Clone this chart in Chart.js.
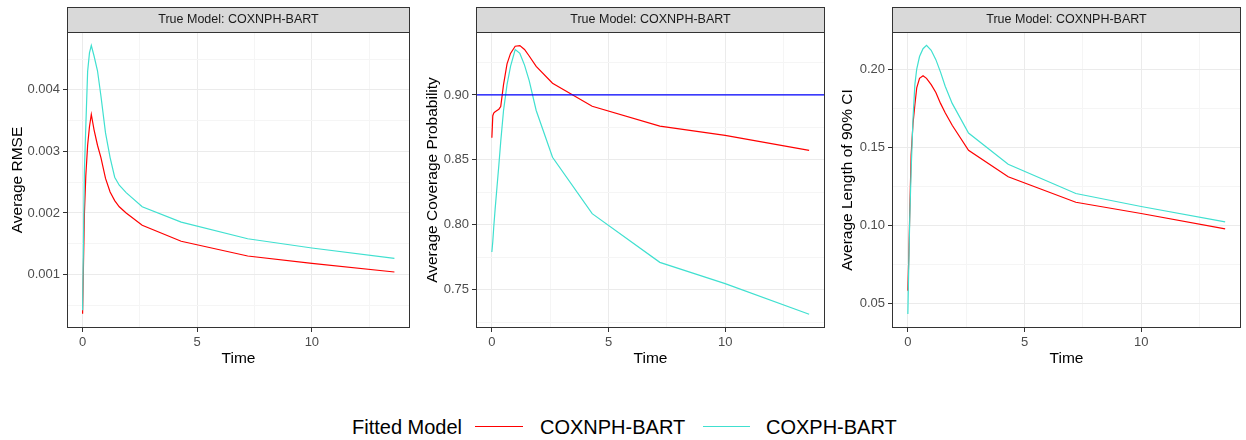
<!DOCTYPE html>
<html lang="en">
<head>
  <meta charset="UTF-8" />
  <title>True Model: COXNPH-BART</title>
  <script src="https://cdn.jsdelivr.net/npm/chart.js"></script>
  <style>
    body {
      margin: 0;
      background: #fff;
      font-family: "Liberation Sans", Arial, sans-serif;
    }
    .wrap {
      position: relative;
      width: 1246px;
      height: 440px;
    }
    canvas {
      position: absolute;
      top: 0;
    }
    .lab {
      position: absolute;
      top: 417px;
      font-size: 20px;
      line-height: 20px;
      color: #000;
      white-space: nowrap;
    }
    .key {
      position: absolute;
      top: 426px;
      height: 0;
      border-top: 1.5px solid;
    }
  </style>
</head>
<body>

<div class="wrap">
  <canvas id="rmseChart" width="415" height="380" style="left:0px"></canvas>
  <canvas id="covChart" width="415" height="380" style="left:415px"></canvas>
  <canvas id="lenChart" width="416" height="380" style="left:830px"></canvas>

  <div class="lab" style="left:352px">Fitted Model</div>
  <div class="key" style="left:475px;width:48px;border-color:#ff0000"></div>
  <div class="lab" style="left:540px">COXNPH-BART</div>
  <div class="key" style="left:703px;width:47px;border-color:#40e0d0"></div>
  <div class="lab" style="left:766px">COXPH-BART</div>
</div>

<script>
  // time points shared by all curves
  const time = [0, 0.04, 0.08, 0.14, 0.22, 0.3, 0.38, 0.5, 0.65, 0.8, 1.0, 1.2, 1.4, 1.6, 1.9, 2.6, 4.3, 7.2, 10, 13.6];

  const rmseNPH = [0.00036, 0.0012, 0.0020, 0.0026, 0.0031, 0.0034, 0.0036, 0.00335, 0.0031, 0.0029, 0.00256, 0.00234, 0.0022, 0.0021, 0.0020, 0.0018, 0.00154, 0.0013, 0.00118, 0.00104];
  const rmsePH  = [0.00042, 0.0016, 0.0027, 0.0034, 0.0043, 0.0046, 0.00472, 0.00455, 0.00431, 0.0039, 0.0033, 0.0029, 0.00258, 0.00245, 0.00233, 0.0021, 0.00185, 0.00158, 0.00143, 0.00126];

  const covNPH = [0.867, 0.884, 0.886, 0.887, 0.888, 0.889, 0.891, 0.908, 0.924, 0.932, 0.9375, 0.938, 0.935, 0.930, 0.922, 0.909, 0.8913, 0.876, 0.8689, 0.8573];
  const covPH  = [0.779, 0.787, 0.798, 0.812, 0.829, 0.846, 0.864, 0.888, 0.908, 0.922, 0.935, 0.932, 0.923, 0.911, 0.888, 0.852, 0.8085, 0.771, 0.7546, 0.731];

  const lenNPH = [0.058, 0.080, 0.107, 0.145, 0.165, 0.177, 0.188, 0.194, 0.1957, 0.194, 0.190, 0.185, 0.178, 0.172, 0.164, 0.148, 0.131, 0.1147, 0.1075, 0.0977];
  const lenPH  = [0.0432, 0.075, 0.104, 0.135, 0.168, 0.190, 0.200, 0.208, 0.213, 0.2152, 0.212, 0.206, 0.198, 0.189, 0.178, 0.159, 0.139, 0.1203, 0.112, 0.1021];

  const nominal = 0.90;

  const xTicks = [0, 5, 10];
  const rmseTicks = [0.001, 0.002, 0.003, 0.004];
  const covTicks = [0.75, 0.80, 0.85, 0.90];
  const lenTicks = [0.05, 0.10, 0.15, 0.20];

  const RED = '#ff0000';
  const CYAN = '#40e0d0';

  const pts = vals => time.map((t, i) => ({ x: t, y: vals[i] }));

  // majors plus the half-way minor lines inside [min, max]
  function gridValues(major, min, max) {
    const step = major[1] - major[0];
    const out = major.slice();
    for (let i = -1; i < major.length; i++) {
      const v = major[0] + (i + 0.5) * step;
      if (v >= min && v <= max) out.push(v);
    }
    return out.sort((a, b) => a - b);
  }
  const isMajor = (major, v) => major.some(m => Math.abs(m - v) < 1e-9);

  const panelFrame = {
    id: 'panelFrame',
    afterDraw(chart) {
      const { ctx, chartArea: a } = chart;
      ctx.save();
      ctx.fillStyle = '#d9d9d9';
      ctx.fillRect(a.left, 7, a.right - a.left, a.top - 7);
      ctx.strokeStyle = '#333';
      ctx.lineWidth = 1;
      ctx.strokeRect(a.left + 0.5, 7.5, a.right - a.left - 1, a.top - 7);
      ctx.strokeRect(a.left + 0.5, a.top + 0.5, a.right - a.left - 1, a.bottom - a.top - 1);
      ctx.fillStyle = '#1a1a1a';
      ctx.font = '12.5px "Liberation Sans", Arial, sans-serif';
      ctx.textAlign = 'center';
      ctx.textBaseline = 'middle';
      ctx.fillText('True Model: COXNPH-BART', (a.left + a.right) / 2, 20);
      ctx.restore();
    }
  };

  function axis(major, min, max, fmt, fitFn, title, titlePad) {
    return {
      type: 'linear',
      min: min,
      max: max,
      afterFit: fitFn,
      afterBuildTicks: s => { s.ticks = gridValues(major, min, max).map(v => ({ value: v })); },
      border: { display: false },
      grid: {
        color: c => isMajor(major, c.tick.value) ? '#ebebeb' : '#f5f5f5',
        lineWidth: 1,
        tickColor: c => isMajor(major, c.tick.value) ? '#333' : 'rgba(0,0,0,0)',
        tickLength: 4
      },
      ticks: {
        autoSkip: false,
        maxRotation: 0,
        padding: 3,
        color: '#4d4d4d',
        font: { family: '"Liberation Sans", Arial, sans-serif', size: 13 },
        callback: v => isMajor(major, v) ? fmt(v) : ''
      },
      title: {
        display: true,
        text: title,
        color: '#000',
        font: { family: '"Liberation Sans", Arial, sans-serif', size: 15.5 },
        padding: titlePad
      }
    };
  }

  function panel(id, yMajor, yMin, yMax, yFmt, yTitle, yWidth, datasets) {
    new Chart(document.getElementById(id), {
      type: 'line',
      data: { datasets: datasets },
      options: {
        responsive: false,
        animation: false,
        events: [],
        layout: { padding: { top: 32, right: 5, left: 0, bottom: 0 } },
        elements: { point: { radius: 0 }, line: { borderWidth: 1.2, tension: 0 } },
        plugins: { legend: { display: false }, tooltip: { enabled: false } },
        scales: {
          x: axis(xTicks, -0.68, 14.28, v => String(v), s => { s.height = 52; }, 'Time', { top: 0, bottom: 12 }),
          y: axis(yMajor, yMin, yMax, yFmt, s => { s.width = yWidth; }, yTitle, { top: 8, bottom: 0 })
        }
      },
      plugins: [panelFrame]
    });
  }

  panel('rmseChart', rmseTicks, 0.00013, 0.00494, v => v.toFixed(3), 'Average RMSE', 67, [
    { label: 'COXPH-BART', data: pts(rmsePH), borderColor: CYAN },
    { label: 'COXNPH-BART', data: pts(rmseNPH), borderColor: RED }
  ]);

  panel('covChart', covTicks, 0.7204, 0.9485, v => v.toFixed(2), 'Average Coverage Probability', 61, [
    { label: 'nominal', data: [{ x: -1, y: nominal }, { x: 15, y: nominal }], borderColor: '#0000ff' },
    { label: 'COXPH-BART', data: pts(covPH), borderColor: CYAN },
    { label: 'COXNPH-BART', data: pts(covNPH), borderColor: RED }
  ]);

  panel('lenChart', lenTicks, 0.0342, 0.2237, v => v.toFixed(2), 'Average Length of 90% CI', 62, [
    { label: 'COXPH-BART', data: pts(lenPH), borderColor: CYAN },
    { label: 'COXNPH-BART', data: pts(lenNPH), borderColor: RED }
  ]);
</script>

</body>
</html>
